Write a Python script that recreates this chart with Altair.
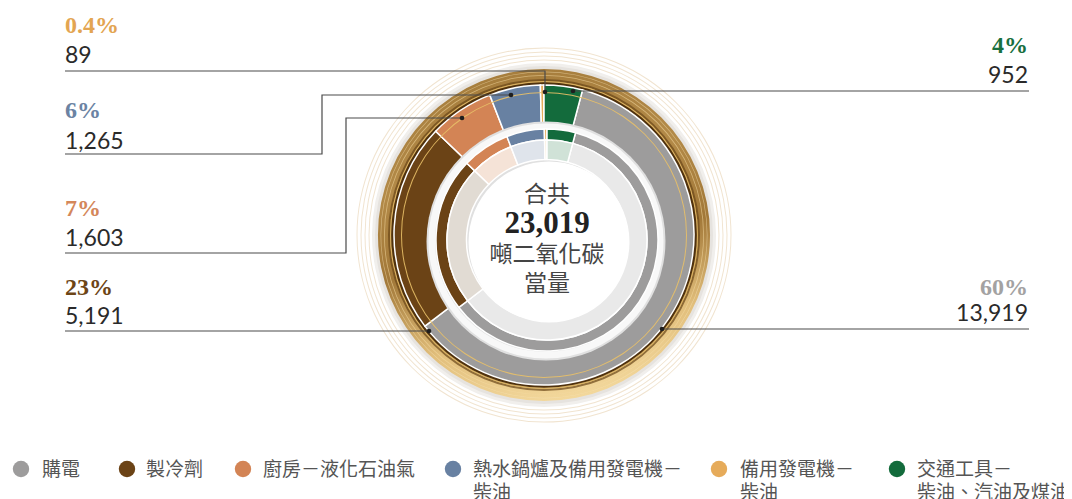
import math
import altair as alt
import pandas as pd

# ---------------- data ----------------
categories = ["購電", "製冷劑", "廚房－液化石油氣", "熱水鍋爐及備用發電機－柴油",
              "備用發電機－柴油", "交通工具－柴油、汽油及煤油"]
values = [13919, 5191, 1603, 1265, 89, 952]
percent_labels = ["60%", "23%", "7%", "6%", "0.4%", "4%"]
ring_order = [1, 2, 3, 4, 5, 0]          # clockwise from 12 o'clock
legend_labels = ["購電", "製冷劑", "廚房－液化石油氣", "熱水鍋爐及備用發電機－\n柴油",
                 "備用發電機－\n柴油", "交通工具－\n柴油、汽油及煤油"]
center_title = "合共"
center_unit = ["噸二氧化碳", "當量"]

# ---------------- styles ----------------
main_colors = ["#9d9c9c", "#6b4316", "#d38455", "#6881a2", "#e6ab5a", "#136b3c"]
pale_colors = ["#e9e9e9", "#e1dbd3", "#f5e3d7", "#dfe4eb", "#f8ebd8", "#d0e2d7"]
pct_colors = ["#a3a2a2", "#6d4516", "#d4875a", "#6b83a3", "#e3a552", "#18703f"]

# ---------------- layout (page pixels) ----------------
OFF = 8
W, H = 1056, 491
label_side = ["right", "left", "left", "left", "left", "right"]
label_x = [1028, 65, 65, 65, 65, 1028]
pct_y = [295, 295, 216, 118, 33, 53]
val_y = [321, 324, 246, 149, 63, 83]
leader_paths = [
    [(662, 329), (1029, 329)],
    [(65, 331), (429, 331)],
    [(65, 253), (346, 253), (346, 118), (462, 118)],
    [(65, 154), (322, 154), (322, 95), (511, 95)],
    [(65, 71), (545, 71), (545, 92)],
    [(573, 91), (1029, 91)],
]
legend_dot_x = [21, 127, 243, 453, 719, 897]
legend_text_x = [42, 146, 263, 473, 740, 917]
legend_y = 469
C1 = (544, 235)   # outer ring centre
C2 = (546, 241)   # gap disc centre
C3 = (547, 240)   # inner rings centre
C4 = (549, 242)   # white core centre

# ---------------- tables ----------------
df = pd.DataFrame({
    "cat": categories,
    "value": values,
    "ord": ring_order,
})
total = sum(values)

one = pd.DataFrame({"a": [0]})


def ring(c, r_out, r_in, fill, opacity=1.0):
    return alt.Chart(one).mark_arc(
        theta=0, theta2=math.tau, radius=r_out, radius2=r_in,
        fill=fill, opacity=opacity, strokeWidth=0
    ).encode(x=alt.value(c[0] - OFF), y=alt.value(c[1] - OFF))


def data_ring(c, r_out, r_in, colors):
    return alt.Chart(df).mark_arc(
        radius=r_out, radius2=r_in, stroke="white", strokeWidth=1.5
    ).encode(
        theta=alt.Theta("value:Q", stack=True),
        order=alt.Order("ord:Q"),
        color=alt.Color("cat:N", scale=alt.Scale(domain=categories, range=colors), legend=None),
        x=alt.value(c[0] - OFF), y=alt.value(c[1] - OFF),
    )


gold = alt.Gradient(
    gradient="linear", x1=0.35, y1=0, x2=0.55, y2=1,
    stops=[alt.GradientStop(offset=0, color="#a67d3c"),
           alt.GradientStop(offset=0.3, color="#b38a48"),
           alt.GradientStop(offset=0.55, color="#a27838"),
           alt.GradientStop(offset=0.8, color="#e2bf7c"),
           alt.GradientStop(offset=1, color="#f3d89c")],
)

layers = []
for r in [175, 179, 183, 187]:
    layers.append(ring(C1, r + 0.5, r - 0.5, "#f1e4d0"))
layers.append(ring(C1, 172, 165, "#f1efec"))
layers.append(ring(C1, 169, 165, "#e6e3df"))
layers.append(ring(C1, 166, 151, gold))
layers.append(ring(C1, 160, 159.2, "#f3d9a0", 0.6))
layers.append(ring(C1, 163.5, 162.8, "#f7e3b5", 0.5))
layers.append(ring(C1, 156, 154, "#6a4617", 0.7))
layers.append(ring(C1, 154, 152.8, "#d9b060"))
layers.append(ring(C1, 152.8, 149.5, "#4f310d"))
layers.append(data_ring(C1, 150, 100, main_colors))
layers.append(ring(C1, 143, 142, "#e8c068", 0.9))
layers.append(ring(C2, 119.5, 0, "#e0e0e0"))
layers.append(ring(C2, 117.5, 111, "#f8f8f8"))
layers.append(data_ring(C3, 111, 100, main_colors))
layers.append(data_ring(C3, 100, 80.5, pale_colors))
layers.append(ring(C4, 80.5, 0, "white"))

# centre text
layers.append(alt.Chart(pd.DataFrame({"t": [center_title]})).mark_text(
    font="Noto Sans CJK TC", fontSize=23, color="#444", align="center", baseline="alphabetic"
).encode(text="t:N", x=alt.value(547 - OFF), y=alt.value(202 - OFF)))
layers.append(alt.Chart(pd.DataFrame({"t": [f"{total:,}"]})).mark_text(
    font="Liberation Serif", fontWeight="bold", fontSize=31, color="#222", align="center",
    baseline="alphabetic"
).encode(text="t:N", x=alt.value(547 - OFF), y=alt.value(233 - OFF)))
for line, yy in zip(center_unit, [262, 291]):
    layers.append(alt.Chart(pd.DataFrame({"t": [line]})).mark_text(
        font="Noto Sans CJK TC", fontSize=23, color="#444", align="center", baseline="alphabetic"
    ).encode(text="t:N", x=alt.value(547 - OFF), y=alt.value(yy - OFF)))

# leader lines
rows = []
for i, path in enumerate(leader_paths):
    for k, (px, py) in enumerate(path):
        rows.append({"id": i, "k": k, "x": px - OFF, "y": py - OFF})
lines_df = pd.DataFrame(rows)
layers.append(alt.Chart(lines_df).mark_line(color="#4a4a4a", strokeWidth=1.2).encode(
    x=alt.X("x:Q", scale=None), y=alt.Y("y:Q", scale=None),
    detail="id:N", order="k:Q"))
dots_df = pd.DataFrame([{"x": (p[0][0] if label_side[i] == "right" else p[-1][0]) - OFF,
                         "y": (p[0][1] if label_side[i] == "right" else p[-1][1]) - OFF}
                        for i, p in enumerate(leader_paths)])
layers.append(alt.Chart(dots_df).mark_circle(size=22, color="#1e1e1e", opacity=1).encode(
    x=alt.X("x:Q", scale=None), y=alt.Y("y:Q", scale=None)))

# value labels
lab = pd.DataFrame({
    "pct": percent_labels,
    "val": [f"{v:,}" for v in values],
    "x": [v - OFF for v in label_x],
    "py": [v - OFF for v in pct_y],
    "vy": [v - OFF for v in val_y],
    "pc": pct_colors,
    "side": label_side,
})
for side in ["left", "right"]:
    sub = lab[lab["side"] == side]
    layers.append(alt.Chart(sub).mark_text(
        font="Liberation Serif", fontWeight="bold", fontSize=24, align=side, baseline="alphabetic"
    ).encode(text="pct:N", x=alt.X("x:Q", scale=None), y=alt.Y("py:Q", scale=None),
             color=alt.Color("pc:N", scale=None)))
    layers.append(alt.Chart(sub).mark_text(
        font="Lato", fontSize=23, align=side, baseline="alphabetic", color="#2a2a2a"
    ).encode(text="val:N", x=alt.X("x:Q", scale=None), y=alt.Y("vy:Q", scale=None)))

# legend
leg = pd.DataFrame({
    "label": legend_labels,
    "dx": [v - OFF for v in legend_dot_x],
    "tx": [v - OFF for v in legend_text_x],
    "y": [legend_y - OFF] * len(legend_labels),
    "ty": [legend_y - OFF - 8] * len(legend_labels),
    "c": main_colors,
})
layers.append(alt.Chart(leg).mark_circle(size=270, opacity=1).encode(
    x=alt.X("dx:Q", scale=None), y=alt.Y("y:Q", scale=None), color=alt.Color("c:N", scale=None)))
layers.append(alt.Chart(leg).mark_text(
    font="Noto Sans CJK TC", fontSize=19, align="left", baseline="top", lineBreak="\n",
    lineHeight=23, color="#555"
).encode(text="label:N", x=alt.X("tx:Q", scale=None), y=alt.Y("ty:Q", scale=None)))

chart = alt.layer(*layers).properties(
    width=W, height=H, padding=0, autosize="none"
).resolve_scale(color="independent").configure_view(stroke=None)

chart.save("out.html", embed_options={"renderer": "svg", "actions": False})
